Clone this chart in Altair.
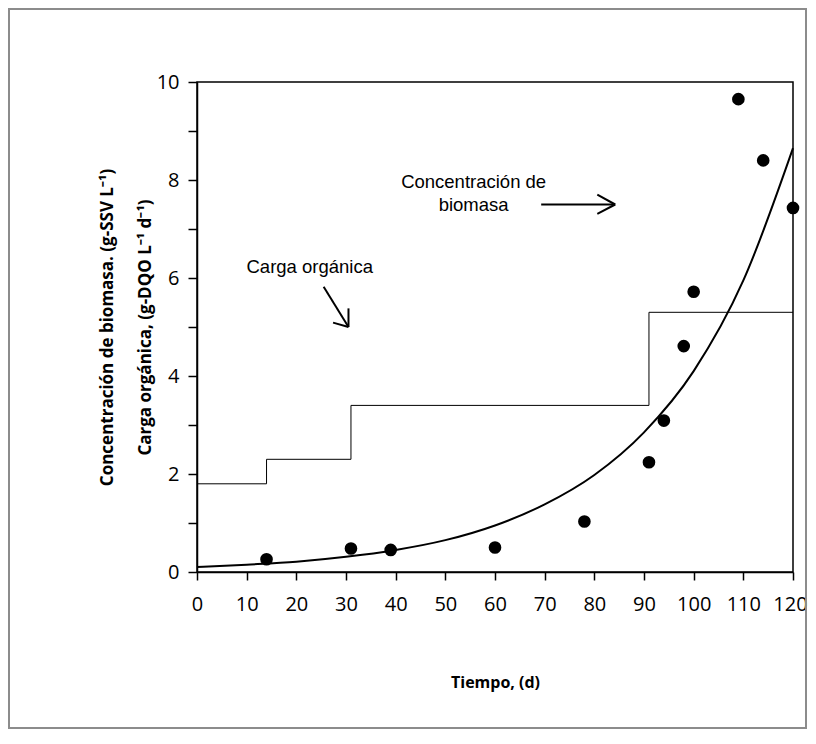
import altair as alt
import pandas as pd

# Measured biomass concentration (points)
t_obs = [14, 31, 39, 60, 78, 91, 94, 98, 100, 109, 114, 120]
x_obs = [0.26, 0.48, 0.45, 0.50, 1.03, 2.24, 3.09, 4.61, 5.72, 9.65, 8.40, 7.43]

# Fitted curve
t_fit = [0, 10, 20, 30, 40, 50, 60, 70, 80, 90, 100, 110, 120]
x_fit = [0.10, 0.15, 0.21, 0.31, 0.45, 0.65, 0.95, 1.38, 1.98, 2.85, 4.10, 5.95, 8.65]

# Organic load steps
t_step = [0, 14, 31, 91, 120]
c_step = [1.8, 2.3, 3.4, 5.3, 5.3]

# Annotation texts
ann_text = ["Concentración de", "biomasa", "Carga orgánica"]
ann_x = [55.7, 55.7, 22.7]
ann_y = [7.96, 7.50, 6.22]

# Arrow segments (shaft + head)
arr_x = [69.3, 84.2, 84.2, 25.5, 30.5, 30.5]
arr_y = [7.50, 7.50, 7.50, 5.82, 5.00, 5.00]
arr_x2 = [84.2, 80.6, 80.6, 30.5, 27.4, 30.5]
arr_y2 = [7.50, 7.70, 7.31, 5.00, 5.09, 5.38]

obs = pd.DataFrame({"t": t_obs, "x": x_obs})
fit = pd.DataFrame({"t": t_fit, "x": x_fit})
step = pd.DataFrame({"t": t_step, "c": c_step})
ann = pd.DataFrame({"t": ann_x, "y": ann_y, "label": ann_text})
arr = pd.DataFrame({"x": arr_x, "y": arr_y, "x2": arr_x2, "y2": arr_y2})

xscale = alt.Scale(domain=[0, 120], nice=False, zero=False)
yscale = alt.Scale(domain=[0, 10], nice=False)

xaxis = alt.Axis(values=list(range(0, 121, 10)), title="Tiempo, (d)", grid=False,
                 labelFontSize=20, labelFont="Open Sans", labelColor="black",
                 titleFont="Open Sans", titleFontSize=16, titleFontWeight="bold",
                 titleColor="black", titlePadding=60, tickSize=8, tickColor="black",
                 domainColor="black", domainWidth=1.5, tickWidth=1.5, labelPadding=14,
                 labelOverlap=False, labelFlush=False,
                 labelOffset={"condition": {"test": "datum.value == 120", "value": -3}, "value": 0})
yaxis = alt.Axis(values=list(range(0, 11)), grid=False,
                 labelExpr="datum.value % 2 == 0 ? datum.label : ''",
                 title=["Concentración de biomasa. (g-SSV L⁻¹)", "Carga orgánica, (g-DQO L⁻¹ d⁻¹)"],
                 labelFontSize=20, labelFont="Open Sans", labelColor="black",
                 titleFont="Open Sans", titleFontSize=17, titleFontWeight="bold",
                 titleColor="black", titlePadding=2, titleLineHeight=38,
                 tickSize=9, tickColor="black", domainColor="black", domainWidth=1.5,
                 tickWidth=1.5, labelPadding=9, labelFlush=False)

frame = alt.Chart(pd.DataFrame({"a": [0]})).mark_rect(
    fill=None, stroke="#8c8c8c", strokeWidth=2
).encode(x=alt.value(-188), x2=alt.value(609), y=alt.value(-73), y2=alt.value(646))

steps = alt.Chart(step).mark_line(interpolate="step-after", color="black", strokeWidth=1).encode(
    x=alt.X("t:Q", scale=xscale, axis=xaxis),
    y=alt.Y("c:Q", scale=yscale, axis=yaxis),
)

curve = alt.Chart(fit).mark_line(interpolate="monotone", color="black", strokeWidth=2).encode(
    x=alt.X("t:Q", scale=xscale), y=alt.Y("x:Q", scale=yscale)
)

pts = alt.Chart(obs).mark_circle(size=160, color="black", opacity=1).encode(
    x=alt.X("t:Q", scale=xscale), y=alt.Y("x:Q", scale=yscale)
)

texts = alt.Chart(ann).mark_text(font="Liberation Sans", fontSize=18.5, color="black").encode(
    x=alt.X("t:Q", scale=xscale), y=alt.Y("y:Q", scale=yscale), text="label:N"
)

arrows = alt.Chart(arr).mark_rule(color="black", strokeWidth=2).encode(
    x=alt.X("x:Q", scale=xscale), y=alt.Y("y:Q", scale=yscale),
    x2="x2:Q", y2="y2:Q"
)

chart = alt.layer(frame, steps, curve, pts, texts, arrows).properties(
    width=596, height=490,
    autosize=alt.AutoSizeParams(type="none"),
    padding={"left": 189, "top": 74, "right": 15, "bottom": 158},
    background="white",
).configure_view(stroke="black", strokeWidth=1.5)

chart.save("out.html", embed_options={"renderer": "svg", "actions": False})
